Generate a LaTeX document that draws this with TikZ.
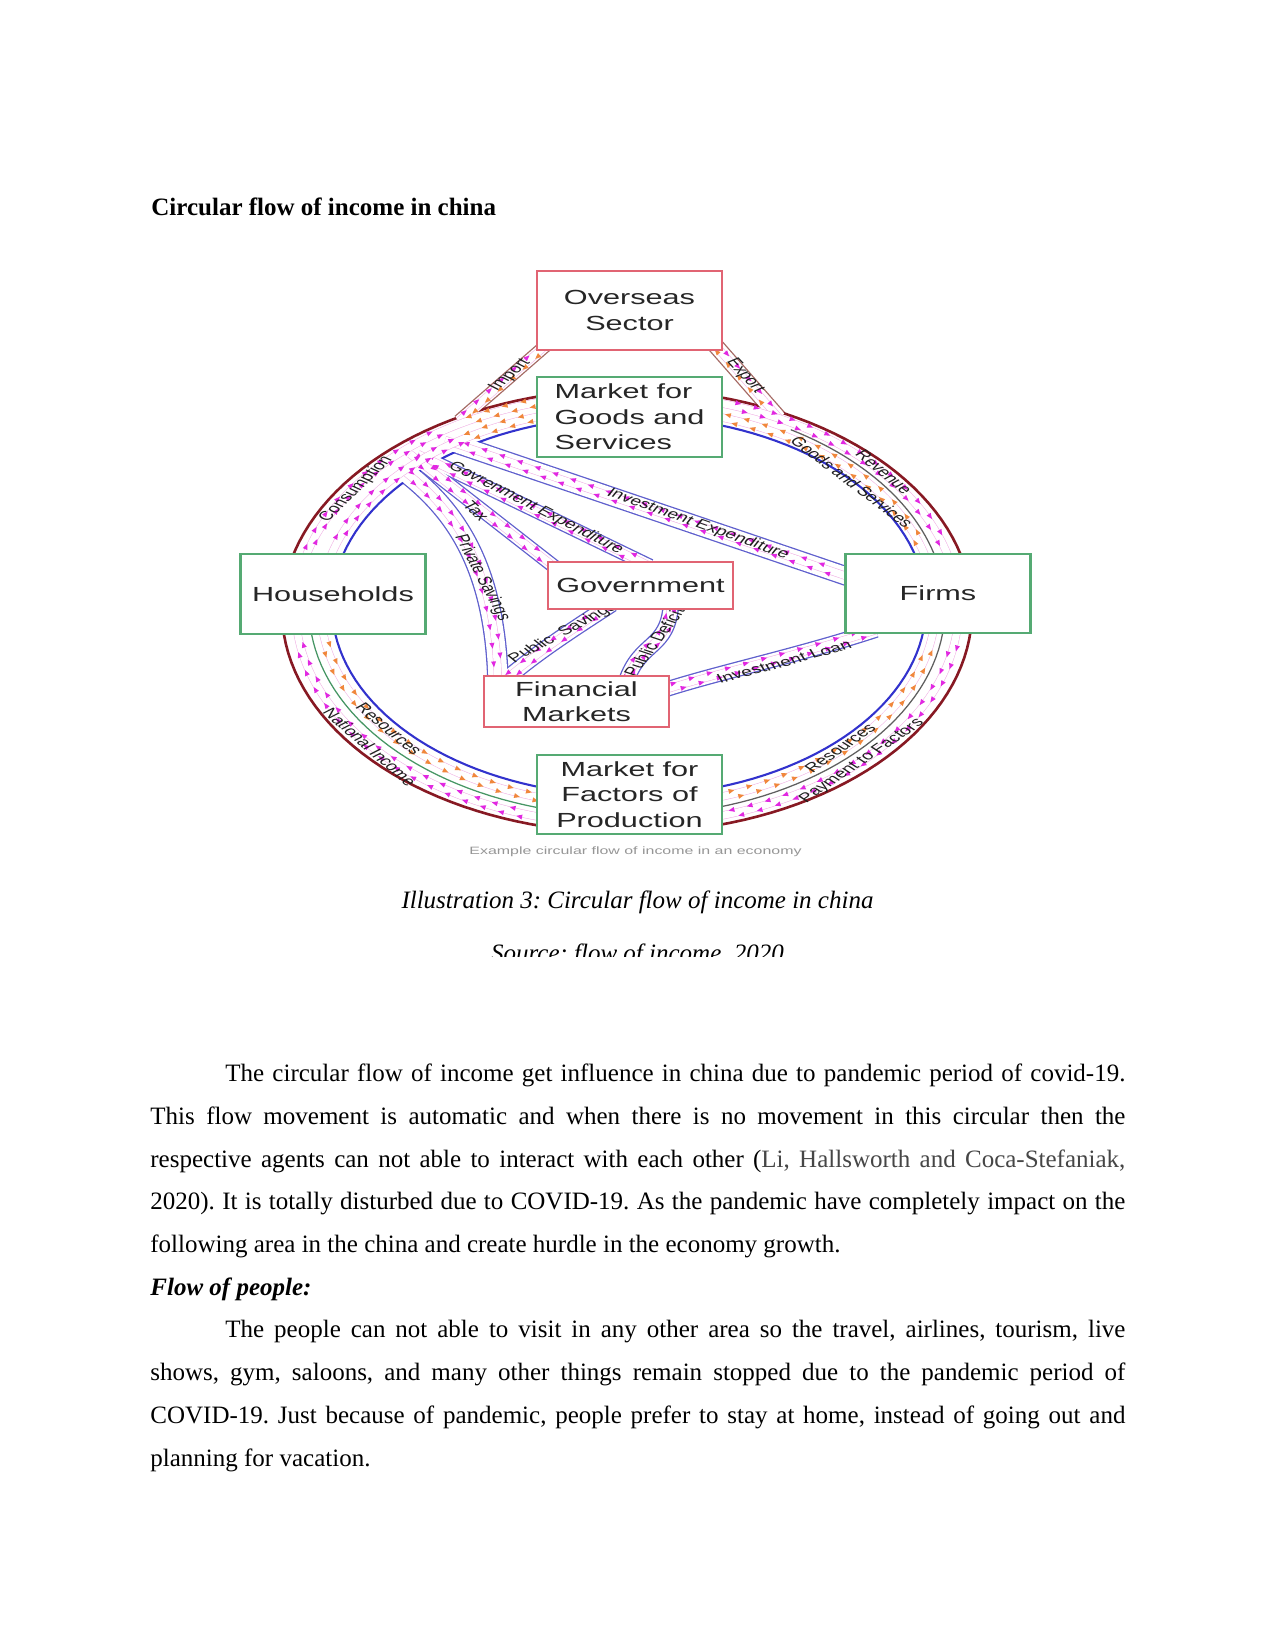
\documentclass[tikz,border=0pt]{standalone}
\usepackage{fontspec}
\setmainfont{Liberation Serif}
\newfontfamily\boxfont[FakeStretch=1.5]{Liberation Sans}
\newfontfamily\lanefont{Liberation Sans}
\usetikzlibrary{decorations.markings}
\pgfdeclarelayer{bg}
\pgfdeclarelayer{edges}
\pgfdeclarelayer{ring}
\pgfdeclarelayer{whites}
\pgfdeclarelayer{flows}
\pgfsetlayers{bg,edges,ring,whites,flows,main}
\frenchspacing
\definecolor{ringred}{RGB}{135,25,35}
\definecolor{ringblue}{RGB}{50,50,205}
\definecolor{bandblue}{RGB}{95,95,205}
\definecolor{tradeedge}{RGB}{165,105,100}
\definecolor{midgreen}{RGB}{70,150,100}
\definecolor{midgray}{RGB}{95,95,95}
\definecolor{arrmag}{RGB}{225,40,225}
\definecolor{arrorg}{RGB}{240,135,60}
\definecolor{paleflow}{RGB}{240,175,228}
\definecolor{boxred}{RGB}{225,100,115}
\definecolor{boxgreen}{RGB}{85,170,115}
\definecolor{capgray}{RGB}{150,150,150}
\definecolor{citegray}{RGB}{70,70,70}
\newcommand\headF[3]{\fill[#1,shift={(#2pt,#3pt)}] (1.5pt,0pt) -- (-1.3pt,1.2pt) -- (-1.3pt,-1.2pt) -- cycle;}
\newcommand\headR[3]{\fill[#1,shift={(#2pt,#3pt)}] (-1.5pt,0pt) -- (1.3pt,1.2pt) -- (1.3pt,-1.2pt) -- cycle;}
% band: path, width (px), edge colour, arrow style
\newcommand\band[4]{%
  \begin{pgfonlayer}{edges}\draw[#3, line width={(#2+2.6)*0.48pt}] #1;\end{pgfonlayer}
  \begin{pgfonlayer}{whites}\draw[white, line width={#2*0.48pt}] #1;\end{pgfonlayer}
  \begin{pgfonlayer}{flows}\draw[paleline] #1; \path[#4] #1;\end{pgfonlayer}}
\newcommand\trackA[2]{plot[domain=0:1,samples=50] ({627+331.5*cos(#1+(#2-#1)*\x)},{609.5-215*sin(#1+(#2-#1)*\x)})}
\newcommand\trackB[2]{plot[domain=0:1,samples=50] ({628+307.5*cos(#1+(#2-#1)*\x)},{607-199*sin(#1+(#2-#1)*\x)})}
% lane label: name, x, y, visual angle, text
\newcommand\lanelabel[5]{\begin{scope}[shift={(#2,#3)},xscale=1.5]
  \node[lanetext,rotate={atan2(sin(#4),cos(#4)/1.5)},transform shape] (#1) at (0,0) {#5};\end{scope}}
\begin{document}
\begin{tikzpicture}[x=0.48pt,y=-0.48pt,
  sectorbox/.style={draw, line width=1pt, fill=white, inner sep=0pt, minimum width=88.8pt,
    text=black!85, font=\boxfont\fontsize{9.8}{12.2}\selectfont, align=center},
  lanetext/.style={inner sep=0pt, text=black!88, font=\lanefont\fontsize{6.2}{7}\selectfont},
  bodytext/.style={inner sep=0pt, anchor=base west, font=\fontsize{12}{14.4}\selectfont},
  paleline/.style={draw=paleflow, line width=0.25pt, double=white, double distance=3.4pt},
  flowM/.style={decorate, decoration={markings, mark=between positions 0.05 and 0.95 step 9pt with {\headF{arrmag}{0}{1.7}\headF{arrmag}{4}{-1.7}}}},
  flowMr/.style={decorate, decoration={markings, mark=between positions 0.05 and 0.95 step 9pt with {\headR{arrmag}{0}{1.7}\headR{arrmag}{4}{-1.7}}}},
  flowO/.style={decorate, decoration={markings, mark=between positions 0.05 and 0.95 step 9pt with {\headF{arrorg}{0}{1.7}\headF{arrorg}{4}{-1.7}}}},
  flowMO/.style={decorate, decoration={markings, mark=between positions 0.08 and 0.92 step 8pt with {\headF{arrmag}{0}{1.5}\headR{arrorg}{4}{-1.5}}}}
]
\useasboundingbox (0,0) rectangle (1275,1651);
\begin{pgfonlayer}{bg}\fill[white] (0,0) rectangle (1275,1651);\end{pgfonlayer}

% ---------- boxes ----------
\node[sectorbox, draw=boxred, minimum height=37.9pt] (overseas) at (629.5,310.5) {Overseas\\Sector};
\node[sectorbox, draw=boxgreen, minimum height=38.4pt, align=left] (goods) at (629.5,417) {Market for\\Goods and\\Services};
\node[sectorbox, draw=boxgreen, minimum height=38.4pt] (households) at (333,594) {Households};
\node[sectorbox, draw=boxgreen, minimum height=37.9pt] (firms) at (938,593.5) {Firms};
\node[sectorbox, draw=boxred, minimum height=22.6pt] (government) at (640.5,585.5) {Government};
\node[sectorbox, draw=boxred, minimum height=24.5pt] (financial) at (576.5,701.5) {Financial\\Markets};
\node[sectorbox, draw=boxgreen, minimum height=37.9pt] (factors) at (629.5,794.5) {Market for\\Factors of\\Production};

% ---------- band end points ----------
\coordinate (impS) at (459,421);   \coordinate (impE) at (551,341);
\coordinate (expS) at (708,337);   \coordinate (expE) at (779,418);
\coordinate (govexpS) at (418,454); \coordinate (govexpE) at (650,566);
\coordinate (invexpS) at (445,440); \coordinate (invexpE) at (852,578);
\coordinate (taxS) at (410,454);   \coordinate (taxE) at (556,568);
\coordinate (privS) at (400,468);  \coordinate (privE) at (498,682);
\coordinate (pubsavS) at (505,680); \coordinate (pubsavE) at (612,604);
\coordinate (pubdefS) at (626,682); \coordinate (pubdefE) at (671,604);
\coordinate (loanS) at (664,690);  \coordinate (loanE) at (876,630);

% ---------- ring ----------
\begin{pgfonlayer}{ring}
\fill[white, even odd rule] plot[domain=0:360,samples=150] ({627+345*cos(\x)},{611-222*sin(\x)}) -- cycle
  plot[domain=0:360,samples=150] ({629+297*cos(\x)},{606-190*sin(\x)}) -- cycle;
\draw[ringred, line width=1.25pt] plot[domain=0:360,samples=150] ({627+345*cos(\x)},{611-222*sin(\x)}) -- cycle;
\draw[ringblue, line width=1pt] plot[domain=0:360,samples=150] ({629+297*cos(\x)},{606-190*sin(\x)}) -- cycle;
\draw[midgray, line width=0.6pt] plot[domain=10:59,samples=30] ({627+318*cos(\x)},{608-208*sin(\x)});
\draw[midgreen, line width=0.6pt] plot[domain=180:270,samples=40] ({627+318*cos(\x)},{608-208*sin(\x)});
\draw[midgray, line width=0.6pt] plot[domain=270:360,samples=40] ({627+318*cos(\x)},{608-208*sin(\x)});
\end{pgfonlayer}

% ---------- bands ----------
\band{(impS) -- (impE)}{11}{tradeedge}{flowMO}
\band{(expS) -- (expE)}{14}{tradeedge}{flowMO}
\band{(invexpS) -- (invexpE)}{17}{bandblue}{flowMr}
\band{(govexpS) -- (govexpE)}{12}{bandblue}{flowMr}
\band{(taxS) -- (taxE)}{12}{bandblue}{flowM}
\band{(privS) .. controls (450,505) and (495,560) .. (privE)}{19}{bandblue}{flowM}
\band{(pubsavS) .. controls (540,650) and (580,625) .. (pubsavE)}{14}{bandblue}{flowMr}
\band{(pubdefS) .. controls (640,640) and (668,650) .. (pubdefE)}{14}{bandblue}{flowM}
\band{(loanS) .. controls (720,672) and (800,655) .. (loanE)}{13}{bandblue}{flowM}

% ---------- lane flows ----------
\begin{pgfonlayer}{flows}
\draw[paleline] \trackA{168}{104};
\draw[paleline] \trackB{168}{106};
\path[flowM] \trackA{166}{121};
\path[flowM] \trackB{162}{123};
\path[flowO] \trackA{106}{119};
\path[flowO] \trackB{108}{121};
\draw[paleline] \trackA{76}{12};
\draw[paleline] \trackB{12}{74};
\path[flowM] \trackA{73}{16};
\path[flowO] \trackB{16}{72};
\draw[paleline] \trackA{356}{284};
\draw[paleline] \trackB{284}{356};
\path[flowM] \trackA{354}{287};
\path[flowO] \trackB{287}{354};
\draw[paleline] \trackA{256}{184};
\draw[paleline] \trackB{184}{256};
\path[flowM] \trackA{254}{187};
\path[flowO] \trackB{187}{254};

% ---------- lane labels ----------
\lanelabel{lImport}{510}{375}{41}{Import}
\lanelabel{lExport}{745}{376}{-47}{Export}
\lanelabel{lCons}{356}{489}{44}{Consumption}
\lanelabel{lGovExp}{536}{508}{-27}{Govrenment Expenditure}
\lanelabel{lInvExp}{698}{524}{-19.5}{Investment Expenditure}
\lanelabel{lTax}{476}{511}{-42}{Tax}
\lanelabel{lPriv}{482}{578}{-62}{Private Savings}
\lanelabel{lPubSav}{563}{633}{28}{Public\ \ Savings}
\lanelabel{lPubDef}{654}{642}{53}{Public Deficit}
\lanelabel{lLoan}{784}{662}{15}{Investment Loan}
\lanelabel{lRev}{884}{472}{-39}{Revenue}
\lanelabel{lGS}{852}{482}{-37}{Goods and Services}
\lanelabel{lResR}{840}{748}{35}{Resources}
\lanelabel{lPay}{862}{761}{34}{Payment to Factors}
\lanelabel{lResL}{389}{729}{-39}{Resources}
\lanelabel{lNat}{370}{747}{-41}{National Income}
\end{pgfonlayer}

\node[anchor=base, inner sep=0pt, text=capgray, font=\boxfont\fontsize{5.1}{6}\selectfont] (imgcap) at (635.5,854) {Example circular flow of income in an economy};

% ---------- page text ----------
\node[bodytext] (heading) at (151,215.5) {\bfseries Circular flow of income in china};
\node[anchor=base, inner sep=0pt, font=\fontsize{12}{14.4}\selectfont] (caption) at (637.5,908) {\itshape Illustration 3: Circular flow of income in china};
\begin{scope}
\clip (300,925) rectangle (1000,956.5);
\node[anchor=base, inner sep=0pt, font=\fontsize{12}{14.4}\selectfont] (source) at (637.5,961.5) {\itshape Source: flow of income, 2020};
\end{scope}

\node[bodytext] (l1) at (225,1081.7) {\makebox[432pt][s]{The circular flow of income get influence in china due to pandemic period of covid-19.}};
\node[bodytext] (l2) at (150,1124.4) {\makebox[468pt][s]{This flow movement is automatic and when there is no movement in this circular then the}};
\node[bodytext] (l3) at (150,1167.1) {\makebox[468pt][s]{respective agents can not able to interact with each other ({\color{citegray}Li, Hallsworth and Coca-Stefaniak,}}};
\node[bodytext] (l4) at (150,1209.8) {\makebox[468pt][s]{2020). It is totally disturbed due to COVID-19. As the pandemic have completely impact on the}};
\node[bodytext] (l5) at (150,1252.5) {following area in the china and create hurdle in the economy growth.};
\node[bodytext] (l6) at (150,1295.2) {\bfseries\itshape Flow of people:};
\node[bodytext] (l7) at (225,1337.9) {\makebox[432pt][s]{The people can not able to visit in any other area so the travel, airlines, tourism, live}};
\node[bodytext] (l8) at (150,1380.6) {\makebox[468pt][s]{shows, gym, saloons, and many other things remain stopped due to the pandemic period of}};
\node[bodytext] (l9) at (150,1423.3) {\makebox[468pt][s]{COVID-19. Just because of pandemic, people prefer to stay at home, instead of going out and}};
\node[bodytext] (l10) at (150,1466) {planning for vacation.};
\end{tikzpicture}
\end{document}
